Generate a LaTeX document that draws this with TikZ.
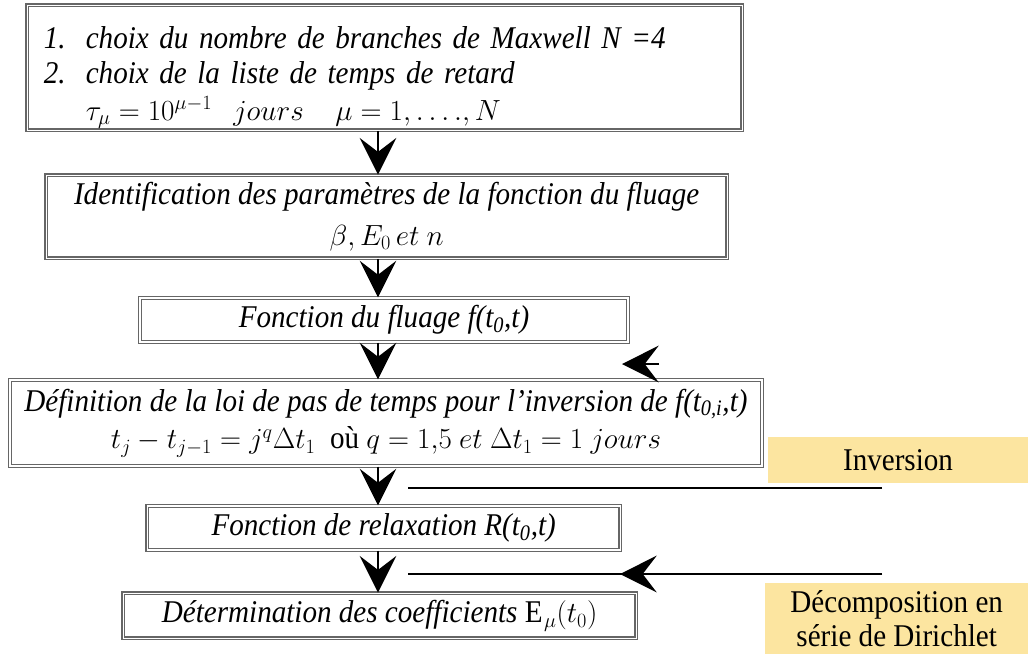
\documentclass[tikz,border=0pt]{standalone}
\usepackage{fontspec}
\setmainfont[FakeStretch=0.92]{Liberation Serif}
\usetikzlibrary{positioning,arrows.meta}
\definecolor{tagfill}{RGB}{252,229,160}
\tikzset{
  stepbox/.style={draw=black!60, double, double distance=1.1pt, line width=1pt, fill=white, inner xsep=0.2cm, inner ysep=0pt, align=center, font=\fontsize{27}{29}\selectfont\itshape},
  tagbox/.style={fill=tagfill, inner sep=0pt, align=center, font=\fontsize{27}{29}\selectfont},
  flowarrow/.style={-{Stealth[length=1.1cm, width=1.1cm, inset=0.42cm]}, line width=1.5pt},
  feedline/.style={line width=2pt}
}

\begin{document}
\begin{tikzpicture}
  \useasboundingbox (0,0) rectangle (30.84,-19.62);
  \node[stepbox, text width=20.45cm, inner xsep=0.5cm, minimum height=3.75cm, align=left] (choix) at (11.54,-2.03) {\raisebox{-0.3cm}[\height][\depth]{\begin{tabular}{@{}p{1.26cm}@{}l@{}}1. & choix du nombre de branches de Maxwell N =4\\[1pt] 2. & choix de la liste de temps de retard\\[2pt] & $\tau_\mu = 10^{\mu-1}\ \ jours\ \ \ \mu = 1, \ldots., N$\end{tabular}}};
  \node[stepbox, minimum width=20.43cm, minimum height=2.49cm] (ident) at (11.60,-6.50) {Identification des paramètres de la fonction du fluage\\[6pt] $\beta, E_0\,et\ n$};
  \node[stepbox, minimum width=14.64cm, minimum height=1.32cm] (fluage) at (11.52,-9.60) {Fonction du fluage f(t\textsubscript{0},t)};
  \node[stepbox, inner xsep=0.1cm, minimum width=22.56cm, minimum height=2.58cm] (pas) at (11.58,-12.69) {Définition de la loi de pas de temps pour l'inversion de f(t\textsubscript{0,i},t)\\[3pt] $t_j - t_{j-1} = j^q\Delta t_1$\ \ \upshape où $q = 1{,}5\ et\ \Delta t_1 = 1\ jours$};
  \node[stepbox, minimum width=14.19cm, minimum height=1.32cm] (relax) at (11.51,-15.84) {Fonction de relaxation R(t\textsubscript{0},t)};
  \node[stepbox, minimum width=15.39cm, minimum height=1.35cm] (coef) at (11.39,-18.47) {Détermination des coefficients \upshape$\mathrm{E}_\mu(t_0)$};

  \node[tagbox, minimum width=7.8cm, minimum height=1.38cm] (inversion) at (26.94,-13.80) {Inversion};
  \node[tagbox, minimum width=7.89cm, minimum height=2.13cm] (dirichlet) at (26.90,-18.555) {Décomposition en\\ série de Dirichlet};

  \coordinate (axis) at (11.34,0);
  \coordinate (inv-r) at (26.46,-14.64);
  \coordinate (inv-l) at (12.24,-14.64);
  \coordinate (dir-r) at (26.46,-17.22);
  \coordinate (dir-l) at (12.24,-17.22);
  \coordinate (dir-m) at (18.60,-17.22);
  \coordinate (loop-r) at (19.77,-10.92);
  \coordinate (loop-l) at (18.66,-10.92);

  \foreach \a/\b in {choix/ident, ident/fluage, fluage/pas, pas/relax, relax/coef}
    \draw[flowarrow] (\a.south -| axis) -- (\b.north -| axis);
  \draw[flowarrow] (loop-r) -- (loop-l);
  \draw[feedline] (inv-r) -- (inv-l);
  \draw[feedline] (dir-r) -- (dir-l);
  \draw[flowarrow, feedline] (dir-r) -- (dir-m);
\end{tikzpicture}
\end{document}
